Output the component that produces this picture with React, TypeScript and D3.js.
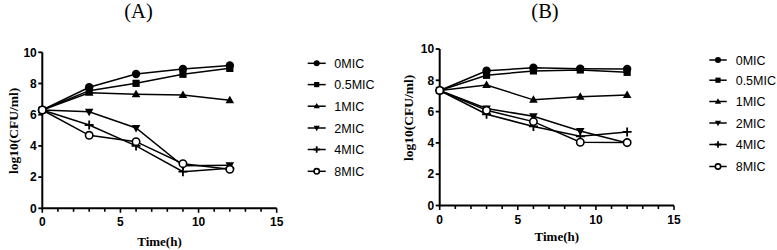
import React from "react";
import * as d3 from "d3";

const times = [0, 3, 6, 9, 12];
const seriesNames = ["0MIC", "0.5MIC", "1MIC", "2MIC", "4MIC", "8MIC"];
const symbols = ["circle", "square", "triangle", "triangleDown", "plus", "openCircle"];

const panelAValues = [
  [6.3, 7.76, 8.61, 8.93, 9.15],
  [6.3, 7.54, 8.01, 8.59, 8.97],
  [6.3, 7.41, 7.31, 7.26, 6.93],
  [6.3, 6.19, 5.15, 2.72, 2.76],
  [6.3, 5.34, 4.0, 2.35, 2.56],
  [6.3, 4.68, 4.27, 2.86, 2.5],
];

const panelBValues = [
  [7.35, 8.61, 8.8, 8.74, 8.72],
  [7.35, 8.32, 8.6, 8.66, 8.51],
  [7.35, 7.7, 6.75, 6.95, 7.06],
  [7.35, 6.2, 5.7, 4.76, 4.0],
  [7.35, 5.83, 5.05, 4.42, 4.7],
  [7.35, 6.08, 5.36, 4.04, 4.02],
];

const xTicks = [0, 5, 10, 15];
const xMinorTicks = d3.range(0, 16, 1);
const yTicks = [0, 2, 4, 6, 8, 10];

const SANS = "'Liberation Sans', Arial, sans-serif";
const SERIF = "'Liberation Serif', 'Times New Roman', serif";

function Marker({ type, x, y, s = 1 }: { type: string; x: number; y: number; s?: number }) {
  switch (type) {
    case "circle":
      return <circle cx={x} cy={y} r={4.2 * s} fill="#000" />;
    case "square":
      return <rect x={x - 3.6 * s} y={y - 3.6 * s} width={7.2 * s} height={7.2 * s} fill="#000" />;
    case "triangle":
      return (
        <path d={`M${x},${y - 4.5 * s}L${x + 4.3 * s},${y + 3 * s}L${x - 4.3 * s},${y + 3 * s}Z`} fill="#000" />
      );
    case "triangleDown":
      return (
        <path d={`M${x},${y + 4.5 * s}L${x + 4.3 * s},${y - 3 * s}L${x - 4.3 * s},${y - 3 * s}Z`} fill="#000" />
      );
    case "plus":
      return (
        <path
          d={`M${x - 4.5 * s},${y}L${x + 4.5 * s},${y}M${x},${y - 4.5 * s}L${x},${y + 4.5 * s}`}
          stroke="#000"
          strokeWidth={1.8}
          fill="none"
        />
      );
    case "openCircle":
      return <circle cx={x} cy={y} r={3.7 * s} fill="#fff" stroke="#000" strokeWidth={1.6} />;
    default:
      return null;
  }
}

type PanelProps = {
  title: string;
  titleX: number;
  values: number[][];
  xRange: [number, number];
  yRange: [number, number];
  yLabelX: number;
  yLabelY: number;
  xLabelY: number;
  legendLineX: [number, number];
  legendTextX: number;
  legendRows: number[];
};

function Panel(p: PanelProps) {
  const x = d3.scaleLinear().domain([0, 15]).range(p.xRange);
  const y = d3.scaleLinear().domain([0, 10]).range(p.yRange);
  const line = d3
    .line<number>()
    .x((_, i) => x(times[i]))
    .y((v) => y(v));
  const y0 = y(0);
  const x0 = x(0);
  return (
    <g>
      <text x={p.titleX} y={18} textAnchor="middle" fontFamily={SERIF} fontSize={20.5} fill="#000">
        {p.title}
      </text>
      {p.values.map((vals, si) => (
        <path key={"l" + si} d={line(vals) || ""} fill="none" stroke="#000" strokeWidth={1.5} />
      ))}
      <line x1={x0} x2={x(15)} y1={y0} y2={y0} stroke="#000" strokeWidth={2} />
      <line x1={x0} x2={x0} y1={y(0) + 1} y2={y(10)} stroke="#000" strokeWidth={2} />
      {xMinorTicks.map((t) => (
        <line
          key={"xm" + t}
          x1={x(t)}
          x2={x(t)}
          y1={y0}
          y2={y0 + (t % 5 === 0 ? 4.5 : 3.5)}
          stroke="#000"
          strokeWidth={1.6}
        />
      ))}
      {xTicks.map((t) => (
        <text
          key={"xt" + t}
          x={x(t)}
          y={y0 + 18}
          textAnchor="middle"
          fontFamily={SANS}
          fontWeight="bold"
          fontSize={12}
          fill="#000"
        >
          {t}
        </text>
      ))}
      {yTicks.map((t) => (
        <g key={"yt" + t}>
          <line x1={x0 - 4} x2={x0} y1={y(t)} y2={y(t)} stroke="#000" strokeWidth={1.8} />
          <text
            x={x0 - 5.5}
            y={y(t) + 4.2}
            textAnchor="end"
            fontFamily={SANS}
            fontWeight="bold"
            fontSize={12}
            fill="#000"
          >
            {t}
          </text>
        </g>
      ))}
      {p.values.map((vals, si) =>
        vals.map((v, i) => <Marker key={"m" + si + "-" + i} type={symbols[si]} x={x(times[i])} y={y(v)} />)
      )}
      <text
        x={(x(0) + x(15)) / 2}
        y={p.xLabelY}
        textAnchor="middle"
        fontFamily={SERIF}
        fontWeight="bold"
        fontSize={13}
        fill="#000"
      >
        Time(h)
      </text>
      <text
        transform={`translate(${p.yLabelX},${p.yLabelY}) rotate(-90)`}
        textAnchor="middle"
        dominantBaseline="central"
        fontFamily={SERIF}
        fontWeight="bold"
        fontSize={13.5}
        fill="#000"
      >
        log10(CFU/ml)
      </text>
      {seriesNames.map((name, si) => {
        const ry = p.legendRows[si];
        const mx = (p.legendLineX[0] + p.legendLineX[1]) / 2;
        return (
          <g key={"lg" + si}>
            <line x1={p.legendLineX[0]} x2={p.legendLineX[1]} y1={ry} y2={ry} stroke="#000" strokeWidth={1.5} />
            <Marker type={symbols[si]} x={mx} y={ry} s={0.72} />
            <text x={p.legendTextX} y={ry + 4.5} fontFamily={SANS} fontSize={12.5} fill="#000">
              {name}
            </text>
          </g>
        );
      })}
    </g>
  );
}

export default function App() {
  return (
    <svg width={777} height={250} style={{ position: "absolute", left: 0, top: 0, background: "#fff" }}>
      <rect x={0} y={0} width={777} height={250} fill="#fff" />
      <Panel
        title="(A)"
        titleX={138.5}
        values={panelAValues}
        xRange={[42.3, 276.7]}
        yRange={[208.3, 52.3]}
        yLabelX={13.5}
        yLabelY={131}
        xLabelY={246}
        legendLineX={[307.7, 325.7]}
        legendTextX={334.3}
        legendRows={[63.3, 84.6, 106.2, 128, 149.5, 171.3]}
      />
      <Panel
        title="(B)"
        titleX={545}
        values={panelBValues}
        xRange={[439.7, 674]}
        yRange={[205.5, 49]}
        yLabelX={408.5}
        yLabelY={118}
        xLabelY={240.5}
        legendLineX={[709.3, 726.7]}
        legendTextX={735.7}
        legendRows={[60, 80.2, 101.5, 123, 144.5, 166.5]}
      />
    </svg>
  );
}
